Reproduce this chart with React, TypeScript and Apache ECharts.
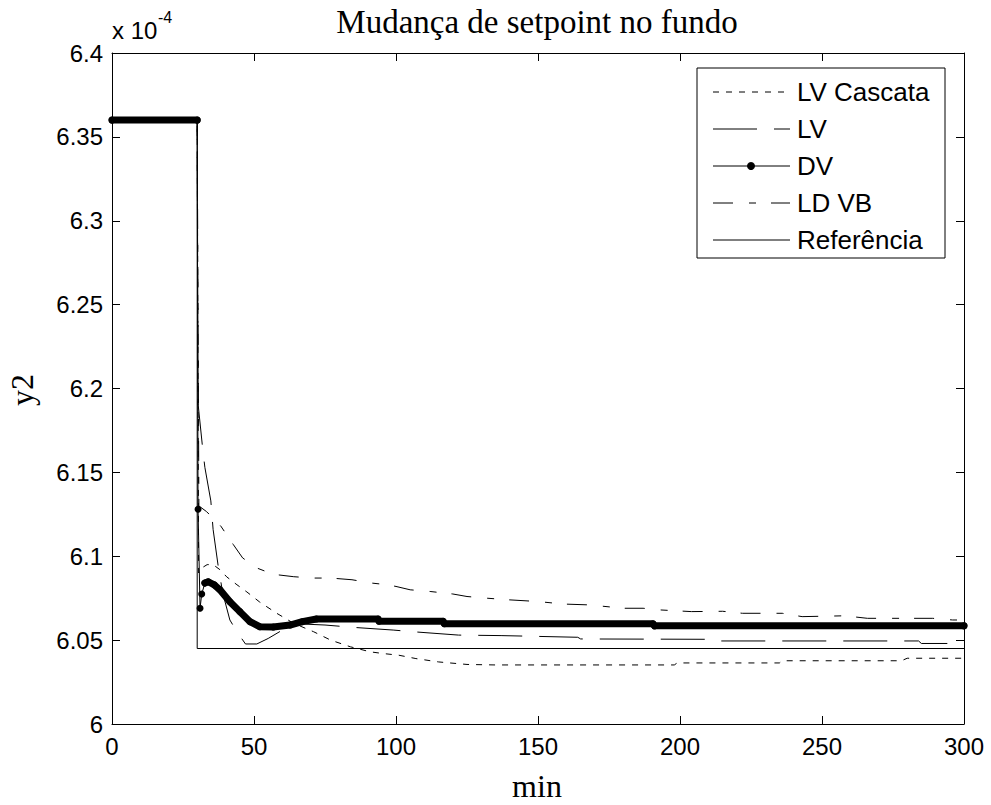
import React, { useEffect, useRef } from "react";
import * as echarts from "echarts";

// values are in units of 1e-4
const xTicks = [0, 50, 100, 150, 200, 250, 300];

const refTime = [0, 30, 30, 300];
const refValue = [6.36, 6.36, 6.045, 6.045];

const lvcTime = [0, 30, 30.5, 31.6, 33.5, 35.6, 38, 40.4, 44, 47.5, 52, 58, 64, 71, 77, 84, 91, 95.5, 101, 107, 115, 125, 135, 198, 199, 235, 236, 278, 280, 300];
const lvcValue = [6.36, 6.36, 6.09, 6.093, 6.095, 6.095, 6.092, 6.0877, 6.083, 6.0787, 6.0727, 6.066, 6.06, 6.055, 6.05, 6.046, 6.043, 6.042, 6.041, 6.039, 6.037, 6.0355, 6.0352, 6.0352, 6.0364, 6.0364, 6.0377, 6.0377, 6.0392, 6.0392];

const lvTime = [0, 30, 30.3, 32, 32.7, 34.8, 35.6, 37.4, 39, 41.5, 44, 47, 51, 55, 60, 67, 75, 85, 99, 106, 122, 137, 164, 165, 209, 210, 284, 285, 300];
const lvValue = [6.36, 6.36, 6.191, 6.163, 6.153, 6.133, 6.116, 6.094, 6.078, 6.062, 6.055, 6.0477, 6.0477, 6.051, 6.056, 6.0596, 6.059, 6.0576, 6.056, 6.055, 6.053, 6.0527, 6.0517, 6.0507, 6.0505, 6.0495, 6.0495, 6.048, 6.048];

const dvTime = [0, 30, 30.3, 31, 31.6, 32.7, 33.9, 36, 38, 41.5, 45, 48.6, 52, 56.8, 62.7, 67, 72, 93.7, 94, 116.6, 117, 190.5, 191, 300];
const dvValue = [6.36, 6.36, 6.128, 6.069, 6.0775, 6.084, 6.0848, 6.083, 6.08, 6.0729, 6.067, 6.061, 6.058, 6.0578, 6.059, 6.061, 6.0626, 6.0626, 6.0612, 6.0612, 6.0598, 6.0598, 6.0585, 6.0585];

const ldTime = [0, 30, 30.6, 33.3, 38.3, 41.5, 42.7, 46, 51, 55.6, 58, 64, 71, 77, 84.5, 91.5, 97, 100, 105, 112, 120, 125, 132, 140, 150, 159, 168, 180, 187, 193, 204, 215, 222, 236, 243, 258, 266, 274, 289, 296, 300];
const ldValue = [6.36, 6.36, 6.13, 6.1266, 6.118, 6.11, 6.107, 6.099, 6.093, 6.09, 6.089, 6.0878, 6.087, 6.087, 6.086, 6.084, 6.083, 6.082, 6.08, 6.079, 6.0775, 6.076, 6.075, 6.074, 6.073, 6.0715, 6.071, 6.069, 6.069, 6.068, 6.067, 6.0672, 6.066, 6.066, 6.064, 6.0645, 6.063, 6.063, 6.063, 6.062, 6.062];

const legendNames = ["LV Cascata", "LV", "DV", "LD VB", "Referência"];

const DASH_LVC = [6, 7];
const DASH_LV = [44, 17];
const DASH_LD = [20, 16, 7, 15];

const SANS = "Liberation Sans";
const SERIF = "Liberation Serif";

const zip = (t: number[], v: number[]) => t.map((x, i) => [x, v[i]]);

export default function App() {
  const ref = useRef<HTMLDivElement>(null);
  useEffect(() => {
    if (!ref.current) return;
    const chart = echarts.init(ref.current, null, { renderer: "svg" });
    const L = 112, T = 53, R = 964, B = 724;

    const dvThick = dvTime.map((t, i) => (t > 30 && t < 32.5 ? [t, null] : [t, dvValue[i]]));

    const axisCommon = {
      axisLine: { show: true, onZero: false, lineStyle: { color: "#000", width: 1 } },
      axisTick: { show: true, inside: true, length: 8, lineStyle: { color: "#000", width: 1 } },
      splitLine: { show: false },
    };

    const lineSeries = (name: string, data: any[], dash: any, extra: any = {}) => ({
      name,
      type: "line",
      data,
      showSymbol: false,
      silent: true,
      lineStyle: { color: "#000", width: 1, type: dash },
      z: 2,
      ...extra,
    });

    const rowY = [92, 129, 166, 203, 240];
    const dashes: any[] = [DASH_LVC, DASH_LV, "solid", DASH_LD, "solid"];
    const legendEls: any[] = [
      {
        type: "rect",
        shape: { x: 697, y: 68, width: 248, height: 190 },
        style: { fill: "#fff", stroke: "#000", lineWidth: 1 },
        z: 100,
      },
    ];
    legendNames.forEach((n, i) => {
      legendEls.push({
        type: "line",
        shape: { x1: 713, y1: rowY[i], x2: 790, y2: rowY[i] },
        style: { stroke: "#000", lineWidth: 1, lineDash: dashes[i] === "solid" ? null : dashes[i] },
        z: 101,
      });
      legendEls.push({
        type: "text",
        x: 797,
        y: rowY[i],
        style: { text: n, fontFamily: SANS, fontSize: 26, fill: "#000", textAlign: "left", textVerticalAlign: "middle" },
        z: 101,
      });
    });
    legendEls.push({ type: "circle", shape: { cx: 751, cy: rowY[2], r: 4 }, style: { fill: "#000" }, z: 102 });

    chart.setOption({
      animation: false,
      backgroundColor: "#fff",
      grid: { left: L, top: T, right: 991 - R, bottom: 805 - B, containLabel: false },
      xAxis: [
        {
          type: "value",
          min: 0,
          max: 300,
          interval: 50,
          position: "bottom",
          ...axisCommon,
          axisLabel: {
            show: true,
            margin: 10,
            fontSize: 24,
            fontFamily: SANS,
            color: "#000",
            formatter: (v: number) => (xTicks.includes(v) ? String(v) : ""),
          },
        },
        {
          type: "value",
          min: 0,
          max: 300,
          interval: 50,
          position: "top",
          ...axisCommon,
          axisLabel: { show: false },
        },
      ],
      yAxis: [
        {
          type: "value",
          min: 6.0,
          max: 6.4,
          interval: 0.05,
          position: "left",
          ...axisCommon,
          axisLabel: {
            show: true,
            margin: 9,
            fontSize: 24,
            fontFamily: SANS,
            color: "#000",
            formatter: (v: number) => String(parseFloat(v.toFixed(2))),
          },
        },
        {
          type: "value",
          min: 6.0,
          max: 6.4,
          interval: 0.05,
          position: "right",
          ...axisCommon,
          axisLabel: { show: false },
        },
      ],
      series: [
        lineSeries("Referência", zip(refTime, refValue), "solid"),
        lineSeries("LV Cascata", zip(lvcTime, lvcValue), DASH_LVC),
        lineSeries("LV", zip(lvTime, lvValue), DASH_LV),
        lineSeries("LD VB", zip(ldTime, ldValue), DASH_LD),
        lineSeries("DV", zip(dvTime, dvValue), "solid", {
          showSymbol: true,
          showAllSymbol: true,
          symbol: "circle",
          symbolSize: 7,
          itemStyle: { color: "#000", borderWidth: 0 },
          z: 3,
        }),
        lineSeries("DV-thick", dvThick, "solid", {
          connectNulls: false,
          lineStyle: { color: "#000", width: 7, cap: "round", join: "round" },
          z: 3,
        }),
      ],
      graphic: [
        {
          type: "text",
          x: 537,
          y: 22,
          style: { text: "Mudança de setpoint no fundo", fontFamily: SERIF, fontSize: 33, fill: "#000", textAlign: "center", textVerticalAlign: "middle" },
          z: 100,
        },
        {
          type: "text",
          x: 537,
          y: 786,
          style: { text: "min", fontFamily: SERIF, fontSize: 32, fill: "#000", textAlign: "center", textVerticalAlign: "middle" },
          z: 100,
        },
        {
          type: "text",
          x: 22,
          y: 390,
          rotation: Math.PI / 2,
          style: { text: "y2", fontFamily: SERIF, fontSize: 32, fill: "#000", textAlign: "center", textVerticalAlign: "middle" },
          z: 100,
        },
        {
          type: "text",
          x: 112,
          y: 30,
          style: { text: "x 10", fontFamily: SANS, fontSize: 24, fill: "#000", textAlign: "left", textVerticalAlign: "middle" },
          z: 100,
        },
        {
          type: "text",
          x: 158,
          y: 17,
          style: { text: "-4", fontFamily: SANS, fontSize: 16, fill: "#000", textAlign: "left", textVerticalAlign: "middle" },
          z: 100,
        },
        ...legendEls,
      ],
    });
    return () => chart.dispose();
  }, []);
  return (
    <div
      ref={ref}
      style={{ position: "absolute", left: 0, top: 0, width: 991, height: 805, background: "#fff" }}
    />
  );
}
